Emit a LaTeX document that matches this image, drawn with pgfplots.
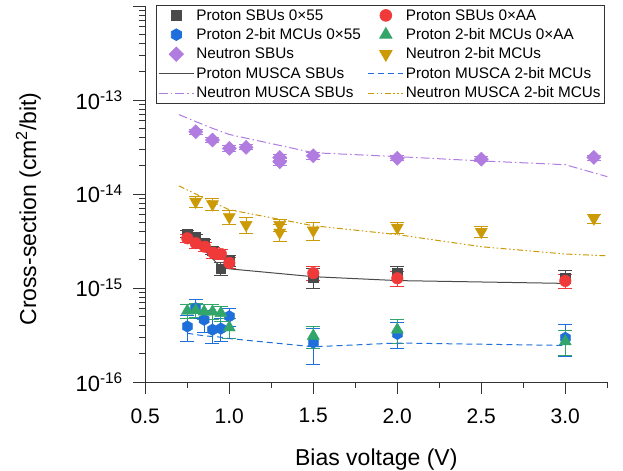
\documentclass[border=0pt]{standalone}
\usepackage{pgfplots}
\pgfplotsset{compat=1.18}
\usepackage{fontspec}
\setmainfont{Liberation Sans}
\definecolor{cgray}{HTML}{4A4A4A}
\definecolor{cred}{HTML}{F03A3A}
\definecolor{cblue}{HTML}{1F6FDB}
\definecolor{cgreen}{HTML}{32A66A}
\definecolor{cpurple}{HTML}{B07CE0}
\definecolor{cgold}{HTML}{CC9A06}
\definecolor{caxis}{HTML}{333333}
\pgfdeclareplotmark{hexagon*}{%
  \pgfpathmoveto{\pgfqpoint{0pt}{\pgfplotmarksize}}%
  \pgfpathlineto{\pgfqpoint{0.866\pgfplotmarksize}{0.5\pgfplotmarksize}}%
  \pgfpathlineto{\pgfqpoint{0.866\pgfplotmarksize}{-0.5\pgfplotmarksize}}%
  \pgfpathlineto{\pgfqpoint{0pt}{-\pgfplotmarksize}}%
  \pgfpathlineto{\pgfqpoint{-0.866\pgfplotmarksize}{-0.5\pgfplotmarksize}}%
  \pgfpathlineto{\pgfqpoint{-0.866\pgfplotmarksize}{0.5\pgfplotmarksize}}%
  \pgfpathclose
  \pgfusepathqfillstroke}
\pgfplotsset{
  mleg/.style={legend image code/.code={\draw[##1] plot coordinates {(17.5bp,0bp)};}},
  lleg/.style={legend image code/.code={\draw[##1] (0bp,0bp) -- (35bp,0bp);}},
  ebar/.style={error bars/.cd, y dir=both, y explicit,
     error bar style={line width=1bp, #1},
     error mark options={#1, rotate=90, mark size=7bp, line width=1bp}},
}
\begin{document}
\begin{tikzpicture}
\begin{axis}[
  scale only axis, width=462bp, height=376bp,
  ymode=log,
  xmin=0.5, xmax=3.25, ymin=1e-16, ymax=1e-12,
  axis x line*=bottom, axis y line*=left,
  axis line style={-, caxis, line width=0.9bp},
  tick style={caxis, line width=0.9bp},
  tick align=outside,
  major tick length=12bp, minor tick length=6bp,
  xtick={0.5,1,1.5,2,2.5,3}, xticklabels={0.5,1.0,1.5,2.0,2.5,3.0},
  minor xtick={0.75,1.25,1.75,2.25,2.75,3.25},
  ytick={1e-16,1e-15,1e-14,1e-13,1e-12},
  yticklabels={10\textsuperscript{-16},10\textsuperscript{-15},10\textsuperscript{-14},10\textsuperscript{-13},{}},
  minor ytick={2e-16,3e-16,4e-16,5e-16,6e-16,7e-16,8e-16,9e-16,2e-15,3e-15,4e-15,5e-15,6e-15,7e-15,8e-15,9e-15,2e-14,3e-14,4e-14,5e-14,6e-14,7e-14,8e-14,9e-14,2e-13,3e-13,4e-13,5e-13,6e-13,7e-13,8e-13,9e-13},
  xticklabel style={font=\fontsize{21bp}{24bp}\selectfont, yshift=-11bp},
  yticklabel style={font=\fontsize{22bp}{26bp}\selectfont, xshift=-7bp},
  xlabel={Bias voltage (V)},
  ylabel={Cross-section (cm\textsuperscript{2}/bit)},
  label style={font=\fontsize{23bp}{27bp}\selectfont},
  xlabel style={at={(axis description cs:0.5,-0.205)}, anchor=center},
  ylabel style={at={(axis description cs:-0.253,0.46)}, anchor=center},
  legend columns=2,
  legend cell align=left,
  legend style={at={(rel axis cs:0.995,1.003)}, anchor=north east, draw=caxis, line width=0.9bp,
    font=\fontsize{15.3bp}{18bp}\selectfont, inner sep=2bp, row sep=2.9bp,
    /tikz/every even column/.append style={column sep=5bp}},
]
% Proton SBUs 0x55
\addplot[only marks, mark=square*, mark size=4.8bp, color=cgray, mleg, ebar=cgray]
table[x=x,y=y,y error=e] {
x y e
0.75 3.75e-15 0.3e-15
0.80 3.45e-15 0.3e-15
0.85 3.0e-15 0.3e-15
0.90 2.5e-15 0.25e-15
0.95 1.6e-15 0.25e-15
1.00 1.95e-15 0.25e-15
1.50 1.3e-15 0.3e-15
2.00 1.45e-15 0.25e-15
3.00 1.27e-15 0.27e-15
};
\addlegendentry{Proton SBUs 0×55}
% Proton SBUs 0xAA
\addplot[only marks, mark=*, mark size=5.8bp, color=cred, mleg, ebar=cred]
table[x=x,y=y,y error=e] {
x y e
0.75 3.38e-15 0.35e-15
0.80 3.0e-15 0.35e-15
0.855 2.75e-15 0.3e-15
0.905 2.37e-15 0.3e-15
0.95 2.3e-15 0.3e-15
1.00 1.85e-15 0.25e-15
1.50 1.44e-15 0.25e-15
2.00 1.27e-15 0.22e-15
3.00 1.19e-15 0.2e-15
};
\addlegendentry{Proton SBUs 0×AA}
% Proton 2-bit MCUs 0x55
\addplot[only marks, mark=hexagon*, mark size=5.8bp, color=cblue, mleg, ebar=cblue]
table[x=x,y=y,y error=e] {
x y e
0.75 3.9e-16 1.2e-16
0.80 6.1e-16 1.4e-16
0.85 4.6e-16 1.2e-16
0.90 3.6e-16 1.0e-16
0.95 3.7e-16 1.0e-16
1.00 5.0e-16 1.1e-16
1.50 2.63e-16 1.1e-16
2.00 3.25e-16 1.0e-16
3.00 2.95e-16 1.1e-16
};
\addlegendentry{Proton 2-bit MCUs 0×55}
% Proton 2-bit MCUs 0xAA
\addplot[only marks, mark=triangle*, mark size=7bp, color=cgreen, mleg, ebar=cgreen]
table[x=x,y=y,y error=e] {
x y e
0.75 5.7e-16 1.0e-16
0.80 5.8e-16 1.0e-16
0.85 5.6e-16 1.0e-16
0.90 5.6e-16 1.0e-16
0.95 5.4e-16 1.0e-16
1.00 3.8e-16 0.9e-16
1.50 3.1e-16 0.8e-16
2.00 3.6e-16 1.0e-16
3.00 2.7e-16 0.8e-16
};
\addlegendentry{Proton 2-bit MCUs 0×AA}
% Neutron SBUs
\addplot[only marks, mark=square*, mark size=5bp, mark options={rotate=45}, color=cpurple, mleg, ebar=cpurple]
table[x=x,y=y,y error=e] {
x y e
0.8 4.6e-14 0.3e-14
0.9 3.75e-14 0.25e-14
1.0 3.06e-14 0.2e-14
1.1 3.14e-14 0.2e-14
1.3 2.45e-14 0.2e-14
1.3 2.2e-14 0.2e-14
1.5 2.55e-14 0.2e-14
2.0 2.4e-14 0.15e-14
2.5 2.35e-14 0.15e-14
3.17 2.45e-14 0.15e-14
};
\addlegendentry{Neutron SBUs}
% Neutron 2-bit MCUs
\addplot[only marks, mark=triangle*, mark size=7bp, mark options={rotate=180}, color=cgold, mleg, ebar=cgold]
table[x=x,y=y,y error=e] {
x y e
0.8 8.3e-15 1.1e-15
0.9 7.8e-15 1.1e-15
1.0 5.7e-15 1.0e-15
1.1 4.7e-15 0.9e-15
1.3 4.7e-15 0.7e-15
1.3 3.9e-15 0.8e-15
1.5 4.1e-15 0.9e-15
2.0 4.4e-15 0.6e-15
2.5 3.97e-15 0.55e-15
3.17 5.5e-15 0.6e-15
};
\addlegendentry{Neutron 2-bit MCUs}
% Proton MUSCA SBUs
\addplot[no marks, color=cgray, line width=1bp, lleg] coordinates {
(0.75,3.85e-15) (0.80,3.2e-15) (0.85,2.55e-15) (0.90,2.05e-15) (0.95,1.66e-15) (1.0,1.6e-15)
(1.5,1.32e-15) (2.0,1.2e-15) (3.0,1.12e-15)};
\addlegendentry{Proton MUSCA SBUs}
% Proton MUSCA 2-bit MCUs
\addplot[no marks, color=cblue, line width=1bp, dash pattern=on 6bp off 4bp, lleg] coordinates {
(0.75,3.3e-16) (0.80,3.2e-16) (0.85,3.1e-16) (0.90,3.05e-16) (0.95,3.0e-16) (1.0,2.9e-16)
(1.5,2.37e-16) (2.0,2.6e-16) (3.0,2.45e-16)};
\addlegendentry{Proton MUSCA 2-bit MCUs}
% Neutron MUSCA SBUs
\addplot[no marks, color=cpurple, line width=1bp, dash pattern=on 9bp off 3bp on 1.5bp off 3bp, lleg] coordinates {
(0.7,7.0e-14) (0.8,5.9e-14) (0.9,5.0e-14) (1.0,4.3e-14) (1.5,2.75e-14) (2.0,2.5e-14)
(2.5,2.25e-14) (3.0,2.05e-14) (3.25,1.53e-14)};
\addlegendentry{Neutron MUSCA SBUs}
% Neutron MUSCA 2-bit MCUs
\addplot[no marks, color=cgold, line width=1bp, dash pattern=on 6bp off 2.5bp on 1.5bp off 2.5bp on 1.5bp off 2.5bp, lleg] coordinates {
(0.7,1.22e-14) (0.8,1.0e-14) (0.9,8.2e-15) (1.0,6.8e-15) (1.5,4.6e-15) (2.0,3.7e-15)
(2.5,2.75e-15) (3.0,2.3e-15) (3.25,2.2e-15)};
\addlegendentry{Neutron MUSCA 2-bit MCUs}
\end{axis}
\pgfresetboundingbox
\path (current axis.south west) ++(-145.3bp,-89bp) rectangle ++(623bp,471bp);
\end{tikzpicture}
\end{document}
